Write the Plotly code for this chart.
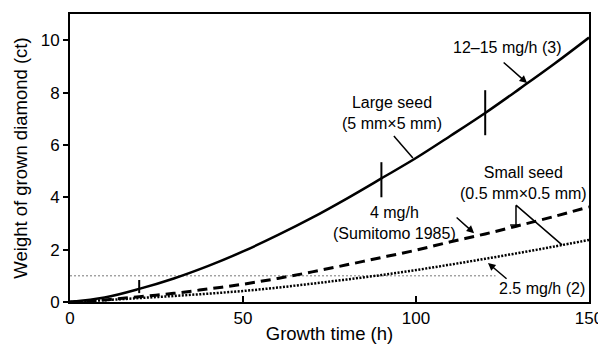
import plotly.graph_objects as go

# Growth time (h)
time_h = [0, 10, 20, 30, 40, 50, 60, 70, 80, 90, 100, 110, 120, 130, 140, 150]
# Large seed, 12-15 mg/h (3)
large_seed = [0, 0.17, 0.5, 0.9, 1.38, 1.93, 2.55, 3.22, 3.95, 4.72, 5.5, 6.35, 7.22, 8.15, 9.1, 10.1]
# 4 mg/h (Sumitomo 1985)
sumitomo = [0, 0.08, 0.2, 0.33, 0.5, 0.68, 0.9, 1.15, 1.42, 1.7, 1.98, 2.3, 2.6, 2.93, 3.27, 3.63]
# 2.5 mg/h (2)
small_25 = [0, 0.07, 0.15, 0.23, 0.32, 0.42, 0.55, 0.7, 0.86, 1.03, 1.22, 1.43, 1.65, 1.88, 2.12, 2.37]
# 1 ct reference line
ref_x = [0, 123]
ref_y = [1, 1]

x_ticks = [0, 50, 100, 150]
y_ticks = [0, 2, 4, 6, 8, 10]

FONT = "Liberation Sans, Arial, sans-serif"

fig = go.Figure()
fig.add_trace(go.Scatter(x=ref_x, y=ref_y, mode="lines",
                         line=dict(color="#777", width=1, dash="2px,2px")))
fig.add_trace(go.Scatter(x=time_h, y=small_25, mode="lines", line_shape="spline",
                         line=dict(color="black", width=2.5, dash="2px,1.5px")))
fig.add_trace(go.Scatter(x=time_h, y=sumitomo, mode="lines", line_shape="spline",
                         line=dict(color="black", width=3, dash="10px,6px")))
fig.add_trace(go.Scatter(x=time_h, y=large_seed, mode="lines", line_shape="spline",
                         line=dict(color="black", width=2.5)))

# vertical marks on the large seed curve
for t, y0, y1 in [(20, 0.34, 0.84), (90, 4.0, 5.34), (120, 6.37, 8.09)]:
    fig.add_shape(type="line", x0=t, x1=t, y0=y0, y1=y1, xref="x", yref="y",
                  line=dict(color="black", width=2))
# pointer line for Large seed
fig.add_shape(type="line", x0=93.6, y0=6.34, x1=99.1, y1=5.5, line=dict(color="black", width=1.5))
# Small seed bracket
fig.add_shape(type="path", path="M 128.9,3.70 L 128.9,2.94 M 128.9,3.70 L 142.2,2.18",
              line=dict(color="black", width=1.5))
fig.add_shape(type="line", x0=127.2, y0=2.94, x1=129.8, y1=2.94, line=dict(color="black", width=1.5))

ann_font = dict(family=FONT, size=16, color="black")
fig.add_annotation(x=126.3, y=9.73, text="12–15 mg/h (3)", showarrow=False, font=ann_font)
fig.add_annotation(x=132.1, y=8.36, ax=124.9, ay=9.2, axref="x", ayref="y", text="",
                   showarrow=True, arrowhead=2, arrowsize=1, arrowwidth=1.5, arrowcolor="black")
fig.add_annotation(x=93.1, y=7.2, text="Large seed<br>(5 mm×5 mm)", showarrow=False, font=ann_font)
fig.add_annotation(x=93.9, y=3.0, text="4 mg/h<br>(Sumitomo 1985)", showarrow=False, font=ann_font)
fig.add_annotation(x=116.8, y=2.63, ax=111.3, ay=3.28, axref="x", ayref="y", text="",
                   showarrow=True, arrowhead=2, arrowsize=1, arrowwidth=1.5, arrowcolor="black")
fig.add_annotation(x=131.2, y=4.54, text="Small seed<br>(0.5 mm×0.5 mm)", showarrow=False, font=ann_font)
fig.add_annotation(x=136.4, y=0.53, text="2.5 mg/h (2)", showarrow=False, font=ann_font)
fig.add_annotation(x=120.8, y=1.49, ax=126.6, ay=0.84, axref="x", ayref="y", text="",
                   showarrow=True, arrowhead=2, arrowsize=1, arrowwidth=1.5, arrowcolor="black")

# page body has an 8px margin, so the figure is sized to fit inside the window
fig.update_layout(
    width=598, height=336,
    margin=dict(l=62, r=17, t=6, b=42),
    paper_bgcolor="white", plot_bgcolor="white",
    showlegend=False,
    font=dict(family=FONT, size=17, color="black"),
    xaxis=dict(range=[0, 150], tickvals=x_ticks, ticks="inside", ticklen=6, tickwidth=1.5,
               tickcolor="black", showgrid=False, zeroline=False, showline=True, linecolor="black",
               linewidth=2, mirror=True, automargin=False, ticklabeloverflow="allow",
               title=dict(text="Growth time (h)", font=dict(size=18.5), standoff=10),
               tickfont=dict(size=17)),
    yaxis=dict(range=[0, 11], tickvals=y_ticks, ticks="outside", ticklen=5, tickwidth=1.5,
               tickcolor="black", showgrid=False, zeroline=False, showline=True, linecolor="black",
               linewidth=2, mirror=True, automargin=False,
               title=dict(text="Weight of grown diamond (ct)", font=dict(size=18.5), standoff=8),
               tickfont=dict(size=17)),
)

fig.write_html("out.html")
